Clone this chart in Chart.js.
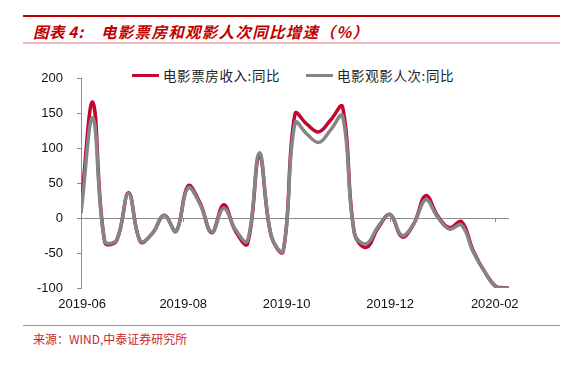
<!DOCTYPE html>
<html>
<head>
<meta charset="utf-8">
<script src="https://cdn.jsdelivr.net/npm/chart.js@4.4.1/dist/chart.umd.min.js"></script>
<style>
  html, body { margin:0; padding:0; background:#fff; }
  body { width:576px; height:379px; position:relative; overflow:hidden; font-family:"Noto Sans CJK SC", sans-serif; }
  .hline { position:absolute; left:23px; width:537px; }
  .tt { position:absolute; top:21px; font-size:15.5px; line-height:20px; color:#C00000; font-style:italic; font-weight:bold; white-space:nowrap; }
  #source { position:absolute; left:33px; top:331px; font-size:12px; line-height:16px; color:#C8282D; white-space:nowrap; }
  #legend { position:absolute; top:66px; left:0; font-size:13.5px; line-height:18px; color:#222; }
  .li { position:absolute; white-space:nowrap; letter-spacing:0.6px; }
  .sw { position:absolute; height:3.5px; }
  canvas { position:absolute; left:0; top:0; }
</style>
</head>
<body>
<div class="hline" style="top:14.5px;height:2.5px;background:#C00000;"></div>
<div class="tt" style="left:33px;letter-spacing:0.5px;">图表<span style="margin-left:3px;letter-spacing:1px;">4:</span></div>
<div class="tt" style="left:101px;letter-spacing:1.3px;">电影票房和观影人次同比增速（%）</div>
<div class="hline" style="top:42px;height:2px;background:#F0B9B9;"></div>
<div id="legend"></div>
<canvas id="c" width="576" height="320"></canvas>
<div class="hline" style="top:324.5px;height:1px;background:#DA7A7A;"></div>
<div id="source">来源：WIND,中泰证券研究所</div>
<script>
// Weekly observations, 2019-06 to 2020-02
const seriesNames = ['电影票房收入:同比', '电影观影人次:同比'];
const boxOffice = [16, 165, -35, -32, 36, -34, -22, 4, -19, 46, 22, -21, 19, -19, -37, 89, -26, -48, 149, 134, 123, 140, 159, -22, -42, -14, 5, -27, -8, 32, 3, -14, -5, -47, -78, -99, -100];
const attendance = [7, 143, -33, -31, 35, -33, -22, 4, -19, 43, 20, -20, 14, -17, -33, 93, -25, -47, 136, 120, 108, 126, 146, -22, -37, -12, 5, -25, -8, 26, 1, -16, -10, -49, -78, -100, -100];
const tickLabels = ['2019-06', '2019-08', '2019-10', '2019-12', '2020-02'];
const tickWeeks = [0.1, 8.6, 17.3, 26.0, 34.8];
const yTicks = [-100, -50, 0, 50, 100, 150, 200];

const RED = '#C3062E', GRAY = '#858585', AX = '#8C8C8C';

// HTML legend
const legend = document.getElementById('legend');
const legPos = [{sw:132, tx:163}, {sw:306, tx:337}];
[RED, GRAY].forEach((col, i) => {
  const s = document.createElement('div'); s.className = 'sw';
  s.style.left = legPos[i].sw + 'px'; s.style.width = '27px'; s.style.top = '7.5px'; s.style.background = col;
  legend.appendChild(s);
  const t = document.createElement('div'); t.className = 'li';
  t.style.left = legPos[i].tx + 'px'; t.style.top = '0px'; t.textContent = seriesNames[i];
  legend.appendChild(t);
});

const toPts = arr => arr.map((v, i) => ({x: i, y: v}));

const zeroTicks = {
  id: 'zeroTicks',
  afterDatasetsDraw(chart) {
    const xs = chart.scales.x, ys = chart.scales.y, ctx = chart.ctx;
    const y0 = ys.getPixelForValue(0);
    ctx.save();
    ctx.strokeStyle = AX; ctx.lineWidth = 1;
    tickWeeks.slice(1).forEach(w => {
      const px = Math.round(xs.getPixelForValue(w)) + 0.5;
      ctx.beginPath(); ctx.moveTo(px, y0); ctx.lineTo(px, y0 + 4); ctx.stroke();
    });
    ctx.restore();
  }
};

new Chart(document.getElementById('c'), {
  type: 'line',
  data: {
    datasets: [
      { label: seriesNames[0], data: toPts(boxOffice), borderColor: RED, borderWidth: 3.5, pointRadius: 0, tension: 0.4, order: 2, fill: false },
      { label: seriesNames[1], data: toPts(attendance), borderColor: GRAY, borderWidth: 3.5, pointRadius: 0, tension: 0.4, order: 1, fill: false }
    ]
  },
  options: {
    responsive: false,
    devicePixelRatio: 1,
    animation: false,
    layout: { padding: { left: 0, right: 67, top: 78, bottom: 0 } },
    plugins: { legend: { display: false }, tooltip: { enabled: false } },
    scales: {
      x: {
        type: 'linear', min: 0, max: boxOffice.length - 1,
        afterBuildTicks: s => { s.ticks = tickWeeks.map(v => ({ value: v })); },
        afterFit: s => { s.height = 32; },
        ticks: { autoSkip: false, maxRotation: 0, padding: 9, color: '#111',
                 font: { family: '"Liberation Sans", Arial, sans-serif', size: 13 },
                 callback: (v, i) => tickLabels[i] },
        grid: { display: false, drawTicks: false },
        border: { display: false }
      },
      y: {
        min: -100, max: 200,
        afterBuildTicks: s => { s.ticks = yTicks.map(v => ({ value: v })); },
        afterFit: s => { s.width = 81; },
        ticks: { padding: 14, color: '#111', font: { family: '"Liberation Sans", Arial, sans-serif', size: 13 } },
        grid: { color: c => (c.tick && c.tick.value === 0) ? AX : 'rgba(0,0,0,0)', tickColor: AX, tickLength: 4, drawTicks: true, lineWidth: 1 },
        border: { display: true, color: AX, width: 1 }
      }
    }
  },
  plugins: [zeroTicks]
});
</script>
</body>
</html>
